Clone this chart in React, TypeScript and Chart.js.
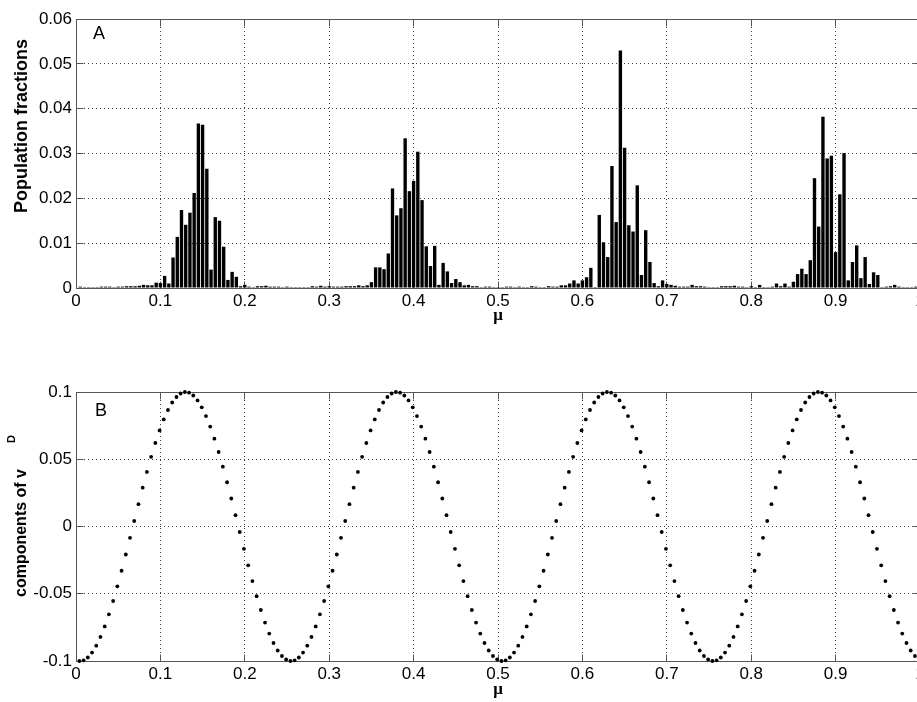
import { useEffect, useRef } from "react";
import { Chart, registerables } from "chart.js";

Chart.register(...registerables);

// ---------------- data ----------------
const MU_STEP = 0.005;

// Panel A: population fraction per mu bin (mu = 0.005 ... 0.995)
const populationFractions = [
  0.0003, 0.0002, 0.0002, 0.0002, 0.0002, 0.0003, 0.0003, 0.0003, 0.0002, 0.0003,
  0.0003, 0.0004, 0.0004, 0.0004, 0.0005, 0.0007, 0.0006, 0.0006, 0.0012, 0.0011,
  0.0027, 0.0010, 0.0068, 0.0114, 0.0174, 0.0141, 0.0168, 0.0212, 0.0367, 0.0364,
  0.0266, 0.0041, 0.0158, 0.0150, 0.0092, 0.0018, 0.0036, 0.0025, 0.0004, 0.0007,
  0.0003, 0.0002, 0.0004, 0.0004, 0.0005, 0.0003, 0.0003, 0.0003, 0.0002, 0.0003,
  0.0002, 0.0002, 0.0002, 0.0002, 0.0002, 0.0004, 0.0003, 0.0005, 0.0003, 0.0004,
  0.0003, 0.0003, 0.0003, 0.0004, 0.0004, 0.0004, 0.0006, 0.0004, 0.0006, 0.0013,
  0.0046, 0.0046, 0.0042, 0.0077, 0.0222, 0.0162, 0.0178, 0.0334, 0.0216, 0.0239,
  0.0304, 0.0196, 0.0093, 0.0049, 0.0094, 0.0007, 0.0056, 0.0037, 0.0011, 0.0020,
  0.0013, 0.0006, 0.0007, 0.0004, 0.0004, 0.0002, 0.0003, 0.0003, 0.0002, 0.0002,
  0.0002, 0.0003, 0.0003, 0.0002, 0.0003, 0.0002, 0.0002, 0.0004, 0.0003, 0.0002,
  0.0002, 0.0004, 0.0003, 0.0003, 0.0006, 0.0006, 0.0010, 0.0017, 0.0010, 0.0017,
  0.0024, 0.0045, 0.0002, 0.0163, 0.0102, 0.0069, 0.0272, 0.0147, 0.0530, 0.0313,
  0.0140, 0.0126, 0.0229, 0.0029, 0.0129, 0.0058, 0.0011, 0.0004, 0.0017, 0.0009,
  0.0007, 0.0005, 0.0003, 0.0003, 0.0003, 0.0007, 0.0004, 0.0004, 0.0003, 0.0002,
  0.0002, 0.0002, 0.0004, 0.0004, 0.0004, 0.0005, 0.0003, 0.0003, 0.0002, 0.0004,
  0.0002, 0.0007, 0.0002, 0.0002, 0.0003, 0.0010, 0.0004, 0.0010, 0.0003, 0.0014,
  0.0031, 0.0043, 0.0031, 0.0062, 0.0245, 0.0137, 0.0382, 0.0289, 0.0295, 0.0080,
  0.0209, 0.0301, 0.0017, 0.0058, 0.0095, 0.0022, 0.0069, 0.0009, 0.0035, 0.0029,
  0.0002, 0.0003, 0.0004, 0.0007, 0.0003, 0.0002, 0.0002, 0.0002, 0.0003,
];

// Panel B: components of v^D (one point per mu sample)
const vdComponents = [
  -0.1000, -0.0995, -0.0974, -0.0937, -0.0886, -0.0821, -0.0743, -0.0653, -0.0554, -0.0445,
  -0.0329, -0.0208, -0.0084, 0.0041, 0.0166, 0.0289, 0.0406, 0.0518, 0.0621, 0.0714,
  0.0796, 0.0866, 0.0922, 0.0963, 0.0989, 0.1000, 0.0995, 0.0974, 0.0937, 0.0886,
  0.0821, 0.0743, 0.0653, 0.0554, 0.0445, 0.0329, 0.0208, 0.0084, -0.0041, -0.0166,
  -0.0289, -0.0406, -0.0518, -0.0621, -0.0714, -0.0796, -0.0866, -0.0922, -0.0963, -0.0989,
  -0.1000, -0.0995, -0.0974, -0.0937, -0.0886, -0.0821, -0.0743, -0.0653, -0.0554, -0.0445,
  -0.0329, -0.0208, -0.0084, 0.0041, 0.0166, 0.0289, 0.0406, 0.0518, 0.0621, 0.0714,
  0.0796, 0.0866, 0.0922, 0.0963, 0.0989, 0.1000, 0.0995, 0.0974, 0.0937, 0.0886,
  0.0821, 0.0743, 0.0653, 0.0554, 0.0445, 0.0329, 0.0208, 0.0084, -0.0041, -0.0166,
  -0.0289, -0.0406, -0.0518, -0.0621, -0.0714, -0.0796, -0.0866, -0.0922, -0.0963, -0.0989,
  -0.1000, -0.0995, -0.0974, -0.0937, -0.0886, -0.0821, -0.0743, -0.0653, -0.0554, -0.0445,
  -0.0329, -0.0208, -0.0084, 0.0041, 0.0166, 0.0289, 0.0406, 0.0518, 0.0621, 0.0714,
  0.0796, 0.0866, 0.0922, 0.0963, 0.0989, 0.1000, 0.0995, 0.0974, 0.0937, 0.0886,
  0.0821, 0.0743, 0.0653, 0.0554, 0.0445, 0.0329, 0.0208, 0.0084, -0.0041, -0.0166,
  -0.0289, -0.0406, -0.0518, -0.0621, -0.0714, -0.0796, -0.0866, -0.0922, -0.0963, -0.0989,
  -0.1000, -0.0995, -0.0974, -0.0937, -0.0886, -0.0821, -0.0743, -0.0653, -0.0554, -0.0445,
  -0.0329, -0.0208, -0.0084, 0.0041, 0.0166, 0.0289, 0.0406, 0.0518, 0.0621, 0.0714,
  0.0796, 0.0866, 0.0922, 0.0963, 0.0989, 0.1000, 0.0995, 0.0974, 0.0937, 0.0886,
  0.0821, 0.0743, 0.0653, 0.0554, 0.0445, 0.0329, 0.0208, 0.0084, -0.0041, -0.0166,
  -0.0289, -0.0406, -0.0518, -0.0621, -0.0714, -0.0796, -0.0866, -0.0922, -0.0963, -0.0989,
];

const xTickValues = [0, 0.1, 0.2, 0.3, 0.4, 0.5, 0.6, 0.7, 0.8, 0.9, 1];
const xTickLabels = ["0", "0.1", "0.2", "0.3", "0.4", "0.5", "0.6", "0.7", "0.8", "0.9", "1"];
const yTickValuesA = [0, 0.01, 0.02, 0.03, 0.04, 0.05, 0.06];
const yTickLabelsA = ["0", "0.01", "0.02", "0.03", "0.04", "0.05", "0.06"];
const yTickValuesB = [-0.1, -0.05, 0, 0.05, 0.1];
const yTickLabelsB = ["-0.1", "-0.05", "0", "0.05", "0.1"];

const muA = populationFractions.map((_, i) => (i + 1) * MU_STEP);
const muB = vdComponents.map((_, i) => (i + 1) * MU_STEP - 0.001);

// ---------------- styling / layout ----------------
const SANS = "'Liberation Sans', Arial, Helvetica, sans-serif";
const SERIF = "'Liberation Serif', 'Times New Roman', serif";
const FRAME_COLOR = "#555";
const GRID_COLOR = "#444";
const TICK_LEN = 7;
const TICK_FONT = 17;

const CANVAS_W = 940;
const HA = 345;
const HB = 360;
const B_TOP = 345;

type TitlePart = { text: string; font: string; raise: number; gapBefore: number };

function makeOverlay(id: string, letter: string, letterDx: number, letterBaseDy: number,
  titleX: number, titleStartY: number, parts: TitlePart[]) {
  return {
    id,
    afterDraw(chart: any) {
      const { ctx, chartArea: a } = chart;
      ctx.save();
      ctx.fillStyle = "#000";
      ctx.font = `18px ${SANS}`;
      ctx.textAlign = "left";
      ctx.textBaseline = "alphabetic";
      ctx.fillText(letter, a.left + letterDx, a.top + letterBaseDy);
      // rotated y-axis title
      ctx.translate(titleX, titleStartY);
      ctx.rotate(-Math.PI / 2);
      let u = 0;
      for (const p of parts) {
        u += p.gapBefore;
        ctx.font = p.font;
        ctx.fillText(p.text, u, -p.raise);
        u += ctx.measureText(p.text).width;
      }
      ctx.restore();
    },
  };
}

const framePlugin = {
  id: "matlabFrame",
  beforeDatasetsDraw(chart: any) {
    const { ctx, chartArea: a } = chart;
    const xs = chart.scales.x;
    const ys = chart.scales.y;
    const al = (p: number) => Math.round(p - 0.5) + 0.5;
    const l = al(a.left), r = al(a.right), t = al(a.top), b = al(a.bottom);
    ctx.save();
    ctx.setLineDash([]);
    ctx.lineWidth = 1;
    ctx.strokeStyle = FRAME_COLOR;
    ctx.strokeRect(l, t, r - l, b - t);
    ctx.beginPath();
    xs.ticks.forEach((tk: any) => {
      const px = al(xs.getPixelForValue(tk.value));
      if (px <= l + 1 || px >= r - 1) return;
      ctx.moveTo(px, b); ctx.lineTo(px, b - TICK_LEN);
      ctx.moveTo(px, t); ctx.lineTo(px, t + TICK_LEN);
    });
    ys.ticks.forEach((tk: any) => {
      const py = al(ys.getPixelForValue(tk.value));
      if (py <= t + 1 || py >= b - 1) return;
      ctx.moveTo(l, py); ctx.lineTo(l + TICK_LEN, py);
      ctx.moveTo(r, py); ctx.lineTo(r - TICK_LEN, py);
    });
    ctx.stroke();
    ctx.restore();
  },
};

function xScale(height: number) {
  return {
    type: "linear",
    min: 0,
    max: 1,
    offset: false,
    afterBuildTicks: (s: any) => { s.ticks = xTickValues.map((v) => ({ value: v })); },
    afterFit: (s: any) => { s.height = height; },
    grid: { color: GRID_COLOR, lineWidth: 1, drawTicks: false, offset: false },
    border: { display: false, dash: [1, 3] },
    ticks: {
      color: "#000",
      padding: 3,
      autoSkip: false,
      maxRotation: 0,
      font: { family: SANS, size: TICK_FONT },
      callback: (_v: any, i: number) => xTickLabels[i],
    },
    title: {
      display: true,
      text: "μ",
      color: "#000",
      padding: 0,
      font: { family: SERIF, size: 17, weight: "bold" },
    },
  };
}

function yScale(min: number, max: number, values: number[], labels: string[]) {
  return {
    type: "linear",
    min,
    max,
    afterBuildTicks: (s: any) => { s.ticks = values.map((v) => ({ value: v })); },
    afterFit: (s: any) => { s.width = 76; },
    grid: { color: GRID_COLOR, lineWidth: 1, drawTicks: false },
    border: { display: false, dash: [1, 3] },
    ticks: {
      color: "#000",
      padding: 4,
      autoSkip: false,
      font: { family: SANS, size: TICK_FONT },
      callback: (_v: any, i: number) => labels[i],
    },
  };
}

export default function App() {
  const refA = useRef<HTMLCanvasElement>(null);
  const refB = useRef<HTMLCanvasElement>(null);

  useEffect(() => {
    const overlayA = makeOverlay("overlayA", "A", 17, 20, 27, 213, [
      { text: "Population fractions", font: `bold 18px ${SANS}`, raise: 0, gapBefore: 0 },
    ]);
    const overlayB = makeOverlay("overlayB", "B", 19, 24, 26, 597 - B_TOP, [
      { text: "components of v", font: `bold 16px ${SANS}`, raise: 0, gapBefore: 0 },
      { text: "D", font: `bold 11px ${SANS}`, raise: 11, gapBefore: 26 },
    ]);

    const chartA = new Chart(refA.current as HTMLCanvasElement, {
      type: "bar",
      data: {
        datasets: [
          {
            data: muA.map((m, i) => ({ x: m, y: populationFractions[i] })),
            backgroundColor: "#000",
            borderWidth: 0,
            barPercentage: 0.8,
            categoryPercentage: 1,
          },
        ],
      },
      options: {
        animation: false,
        responsive: true,
        maintainAspectRatio: false,
        layout: { padding: { left: 0, top: 19, right: 20, bottom: HA - 288 - 38 }, autoPadding: false },
        plugins: { legend: { display: false }, tooltip: { enabled: false } },
        scales: {
          x: xScale(38) as any,
          y: yScale(0, 0.06, yTickValuesA, yTickLabelsA) as any,
        },
      },
      plugins: [framePlugin, overlayA],
    } as any);

    const chartB = new Chart(refB.current as HTMLCanvasElement, {
      type: "scatter",
      data: {
        datasets: [
          {
            data: muB.map((m, i) => ({ x: m, y: vdComponents[i] })),
            pointRadius: 1.9,
            pointBackgroundColor: "#000",
            pointBorderWidth: 0,
            showLine: false,
            clip: false,
          },
        ],
      },
      options: {
        animation: false,
        responsive: true,
        maintainAspectRatio: false,
        layout: { padding: { left: 0, top: 392 - B_TOP, right: 20, bottom: HB - (661 - B_TOP) - 39 }, autoPadding: false },
        plugins: { legend: { display: false }, tooltip: { enabled: false } },
        scales: {
          x: xScale(39) as any,
          y: yScale(-0.1, 0.1, yTickValuesB, yTickLabelsB) as any,
        },
      },
      plugins: [framePlugin, overlayB],
    } as any);

    return () => {
      chartA.destroy();
      chartB.destroy();
    };
  }, []);

  return (
    <div style={{ position: "fixed", left: 0, top: 0, width: 917, height: 702, overflow: "hidden", background: "#fff" }}>
      <div style={{ position: "absolute", left: 0, top: 0, width: CANVAS_W, height: HA }}>
        <canvas ref={refA} />
      </div>
      <div style={{ position: "absolute", left: 0, top: B_TOP, width: CANVAS_W, height: HB }}>
        <canvas ref={refB} />
      </div>
    </div>
  );
}
